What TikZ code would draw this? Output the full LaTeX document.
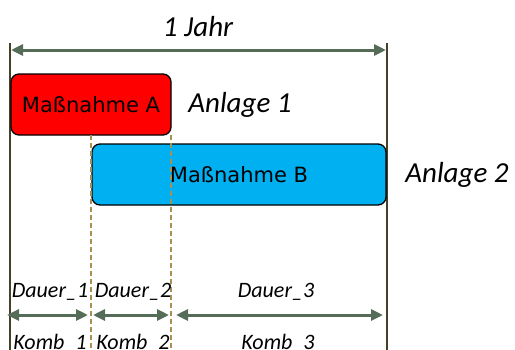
\documentclass[tikz,border=0pt]{standalone}
\usepackage{fontspec}
\setmainfont{Carlito}
\newfontfamily\boxfont{DejaVu Sans}
\usetikzlibrary{arrows.meta}
\definecolor{arrowgreen}{RGB}{85,108,88}
\definecolor{frameline}{RGB}{70,64,40}
\definecolor{dashcol}{RGB}{165,145,85}
\definecolor{redbox}{RGB}{255,0,0}
\definecolor{bluebox}{RGB}{0,176,240}
\tikzset{
  dimarrow/.style={draw=arrowgreen, line width=3bp, {Triangle[length=12bp,width=11bp]}-{Triangle[length=12bp,width=11bp]}, shorten <=0bp, shorten >=0bp},
  frame/.style={draw=frameline, line width=1.3bp},
  guide/.style={draw=dashcol, line width=1.2bp, dash pattern=on 5bp off 3bp},
  massbox/.style={draw=black, line width=1.3bp, rounded corners=8bp, inner sep=0pt, font=\boxfont\fontsize{21bp}{25bp}\selectfont},
  biglabel/.style={font=\itshape\fontsize{29bp}{34bp}\selectfont, anchor=base, inner sep=0pt},
  smalllabel/.style={font=\itshape\fontsize{22bp}{26bp}\selectfont, anchor=base, inner sep=0pt}
}
\begin{document}
\begin{tikzpicture}[x=1bp,y=-1bp]
\useasboundingbox (0,0) rectangle (515,349);
\clip (0,0) rectangle (515,349);
% frame lines
\coordinate (LT) at (10,43);
\coordinate (LB) at (10,352);
\coordinate (RT) at (387,43);
\coordinate (RB) at (387,352);
\draw[frame] (LT) -- (LB);
\draw[frame] (RT) -- (RB);
% top arrow
\coordinate (J1) at (11,50);
\coordinate (J2) at (386,50);
\draw[dimarrow] (J1) -- (J2);
\node[biglabel] (jahr) at (198,36) {1 Jahr};
% boxes
\node[massbox, fill=redbox, minimum width=160bp, minimum height=61bp] (A) at (91,104.5) {Maßnahme A};
\node[massbox, fill=bluebox, minimum width=294bp, minimum height=61bp] (B) at (239,174.5) {Maßnahme B};
\node[biglabel] (an1) at (240,112) {Anlage 1};
\node[biglabel] (an2) at (457,182) {Anlage 2};
% dashed guides
\coordinate (D1T) at (91,135);
\coordinate (D1B) at (91,352);
\coordinate (D2T) at (171,135);
\coordinate (D2B) at (171,352);
\draw[guide] (D1T) -- (D1B);
\draw[guide] (D2T) -- (D2B);
% bottom arrows
\coordinate (a1) at (7,315);
\coordinate (a2) at (88,315);
\coordinate (b1) at (93,315);
\coordinate (b2) at (169,315);
\coordinate (c1) at (176,315);
\coordinate (c2) at (383,315);
\draw[dimarrow] (a1) -- (a2);
\draw[dimarrow] (b1) -- (b2);
\draw[dimarrow] (c1) -- (c2);
\node[smalllabel] (d1) at (50,297) {Dauer\_1};
\node[smalllabel] (d2) at (133,297) {Dauer\_2};
\node[smalllabel] (d3) at (276,297) {Dauer\_3};
\node[smalllabel] (k1) at (50,349) {Komb\_1};
\node[smalllabel] (k2) at (133,349) {Komb\_2};
\node[smalllabel] (k3) at (278,349) {Komb\_3};
\end{tikzpicture}
\end{document}
